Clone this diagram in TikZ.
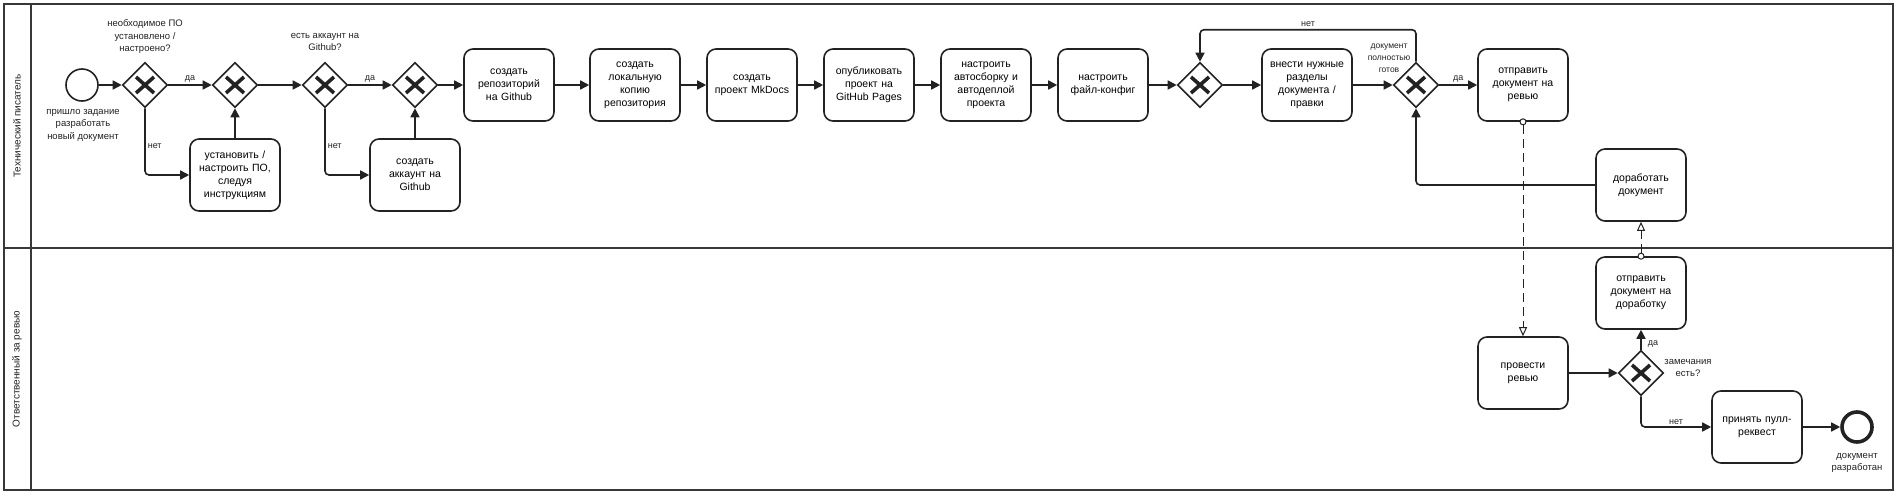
\documentclass[tikz,border=0pt]{standalone}
\usepackage{fontspec}
\setmainfont{Liberation Sans}
\usetikzlibrary{shapes.geometric,arrows.meta}

\definecolor{ink}{HTML}{222222}

\tikzset{
  task/.style={draw=ink, line width=1.6pt, rounded corners=9pt, minimum width=90pt,
    minimum height=72pt, text width=84pt, align=center, inner sep=0pt,
    font=\fontsize{10.5}{13}\selectfont},
  gate/.style={diamond, draw=ink, line width=1.6pt, minimum width=45pt, minimum height=45pt,
    inner sep=0pt, path picture={\draw[ink, line width=3.6pt, shift={(path picture bounding box.center)}]
      (-9,-8)--(9,8) (-9,8)--(9,-8);}},
  startev/.style={circle, draw=ink, line width=1.6pt, minimum size=32pt, inner sep=0pt},
  endev/.style={circle, draw=ink, line width=3.6pt, minimum size=30pt, inner sep=0pt},
  flow/.style={draw=ink, line width=1.6pt, rounded corners=4pt, -{Triangle[length=9pt,width=9pt]}},
  msg/.style={draw=ink, line width=1pt, dash pattern=on 9pt off 5pt, shorten <=-3.5pt,
    {Circle[open,length=7pt,width=7pt,fill=white,line width=1pt]}-{Triangle[open,length=9pt,width=8pt,fill=white,line width=1pt]}},
  note/.style={align=center, inner sep=1pt, text=ink, font=\fontsize{9.5}{12.5}\selectfont},
  yesno/.style={inner sep=2pt, text=ink, font=\fontsize{9}{11}\selectfont},
  lane/.style={rotate=90, text=ink, font=\fontsize{10}{12}\selectfont},
  frame/.style={draw=ink!90, line width=1.2pt}
}

\begin{document}
\begin{tikzpicture}[x=1pt,y=-1pt]
  \useasboundingbox (0,0) rectangle (1901,498);
  % pool with two lanes
  \draw[frame] (4,4) rectangle (1893,490);
  \draw[frame] (31,4) -- (31,490);
  \draw[frame] (4,248) -- (1893,248);
  \node[lane] (writer) at (17,126) {Технический писатель};
  \node[lane] (reviewer) at (17,369) {Ответственный за ревью};

  % --- technical writer ---
  \node[startev] (start) at (82,85) {};
  \node[note] (startlbl) at (83,125) {пришло задание\\разработать\\новый документ};
  \node[gate] (g1) at (145,85) {};
  \node[note] (g1lbl) at (145,37) {необходимое ПО\\установлено /\\настроено?};
  \node[gate] (g2) at (235,85) {};
  \node[task] (install) at (235,175) {установить /\\настроить ПО,\\следуя\\инструкциям};
  \node[gate] (g3) at (325,85) {};
  \node[note] (g3lbl) at (325,42) {есть аккаунт на\\Github?};
  \node[gate] (g4) at (415,85) {};
  \node[task] (account) at (415,175) {создать\\аккаунт на\\Github};
  \node[task] (repo) at (509,85) {создать\\репозиторий\\на Github};
  \node[task] (local) at (635,85) {создать\\локальную\\копию\\репозитория};
  \node[task] (mkdocs) at (752,85) {создать\\проект MkDocs};
  \node[task] (publish) at (869,85) {опубликовать\\проект на\\GitHub Pages};
  \node[task] (deploy) at (986,85) {настроить\\автосборку и\\автодеплой\\проекта};
  \node[task] (config) at (1103,85) {настроить\\файл-конфиг};
  \node[gate] (g5) at (1200,85) {};
  \node[task] (edit) at (1307,85) {внести нужные\\разделы\\документа /\\правки};
  \node[gate] (g6) at (1416,85) {};
  \node[note, font=\fontsize{8.5}{12}\selectfont] (g6lbl) at (1389,58) {документ\\полностью\\готов};
  \node[task] (send) at (1523,85) {отправить\\документ на\\ревью};
  \node[task] (fix) at (1641,185) {доработать\\документ};

  % --- reviewer ---
  \node[task] (review) at (1523,373) {провести\\ревью};
  \node[gate] (g7) at (1641,373) {};
  \node[note] (g7lbl) at (1688,368) {замечания\\есть?};
  \node[task] (rework) at (1641,293) {отправить\\документ на\\доработку};
  \node[task] (accept) at (1757,427) {принять пулл-\\реквест};
  \node[endev] (finish) at (1857,427) {};
  \node[note] (finishlbl) at (1857,463) {документ\\разработан};

  % sequence flows
  \draw[flow] (start) -- (g1);
  \draw[flow] (g1) -- node[yesno, above] (y1) {да} (g2);
  \draw[flow] (g1) |- node[yesno, pos=0.28, right] (n1) {нет} (install);
  \draw[flow] (install) -- (g2);
  \draw[flow] (g2) -- (g3);
  \draw[flow] (g3) -- node[yesno, above] (y2) {да} (g4);
  \draw[flow] (g3) |- node[yesno, pos=0.28, right] (n2) {нет} (account);
  \draw[flow] (account) -- (g4);
  \draw[flow] (g4) -- (repo);
  \draw[flow] (repo) -- (local);
  \draw[flow] (local) -- (mkdocs);
  \draw[flow] (mkdocs) -- (publish);
  \draw[flow] (publish) -- (deploy);
  \draw[flow] (deploy) -- (config);
  \draw[flow] (config) -- (g5);
  \draw[flow] (g5) -- (edit);
  \draw[flow] (edit) -- (g6);
  \draw[flow] (g6.north) -- ++(0,-32) -| node[yesno, pos=0.25, above] (n3) {нет} (g5.north);
  \draw[flow] (g6) -- node[yesno, above] (y3) {да} (send);
  \draw[flow] (fix) -| (g6);
  \draw[flow] (review) -- (g7);
  \draw[flow] (g7) -- node[yesno, right, xshift=4pt, yshift=-4pt] (y4) {да} (rework);
  \draw[flow] (g7) |- node[yesno, pos=0.75, above] (n4) {нет} (accept);
  \draw[flow] (accept) -- (finish);

  % message flows
  \draw[msg] (send.south) -- (review.north);
  \draw[msg] (rework.north) -- (fix.south);
\end{tikzpicture}
\end{document}
